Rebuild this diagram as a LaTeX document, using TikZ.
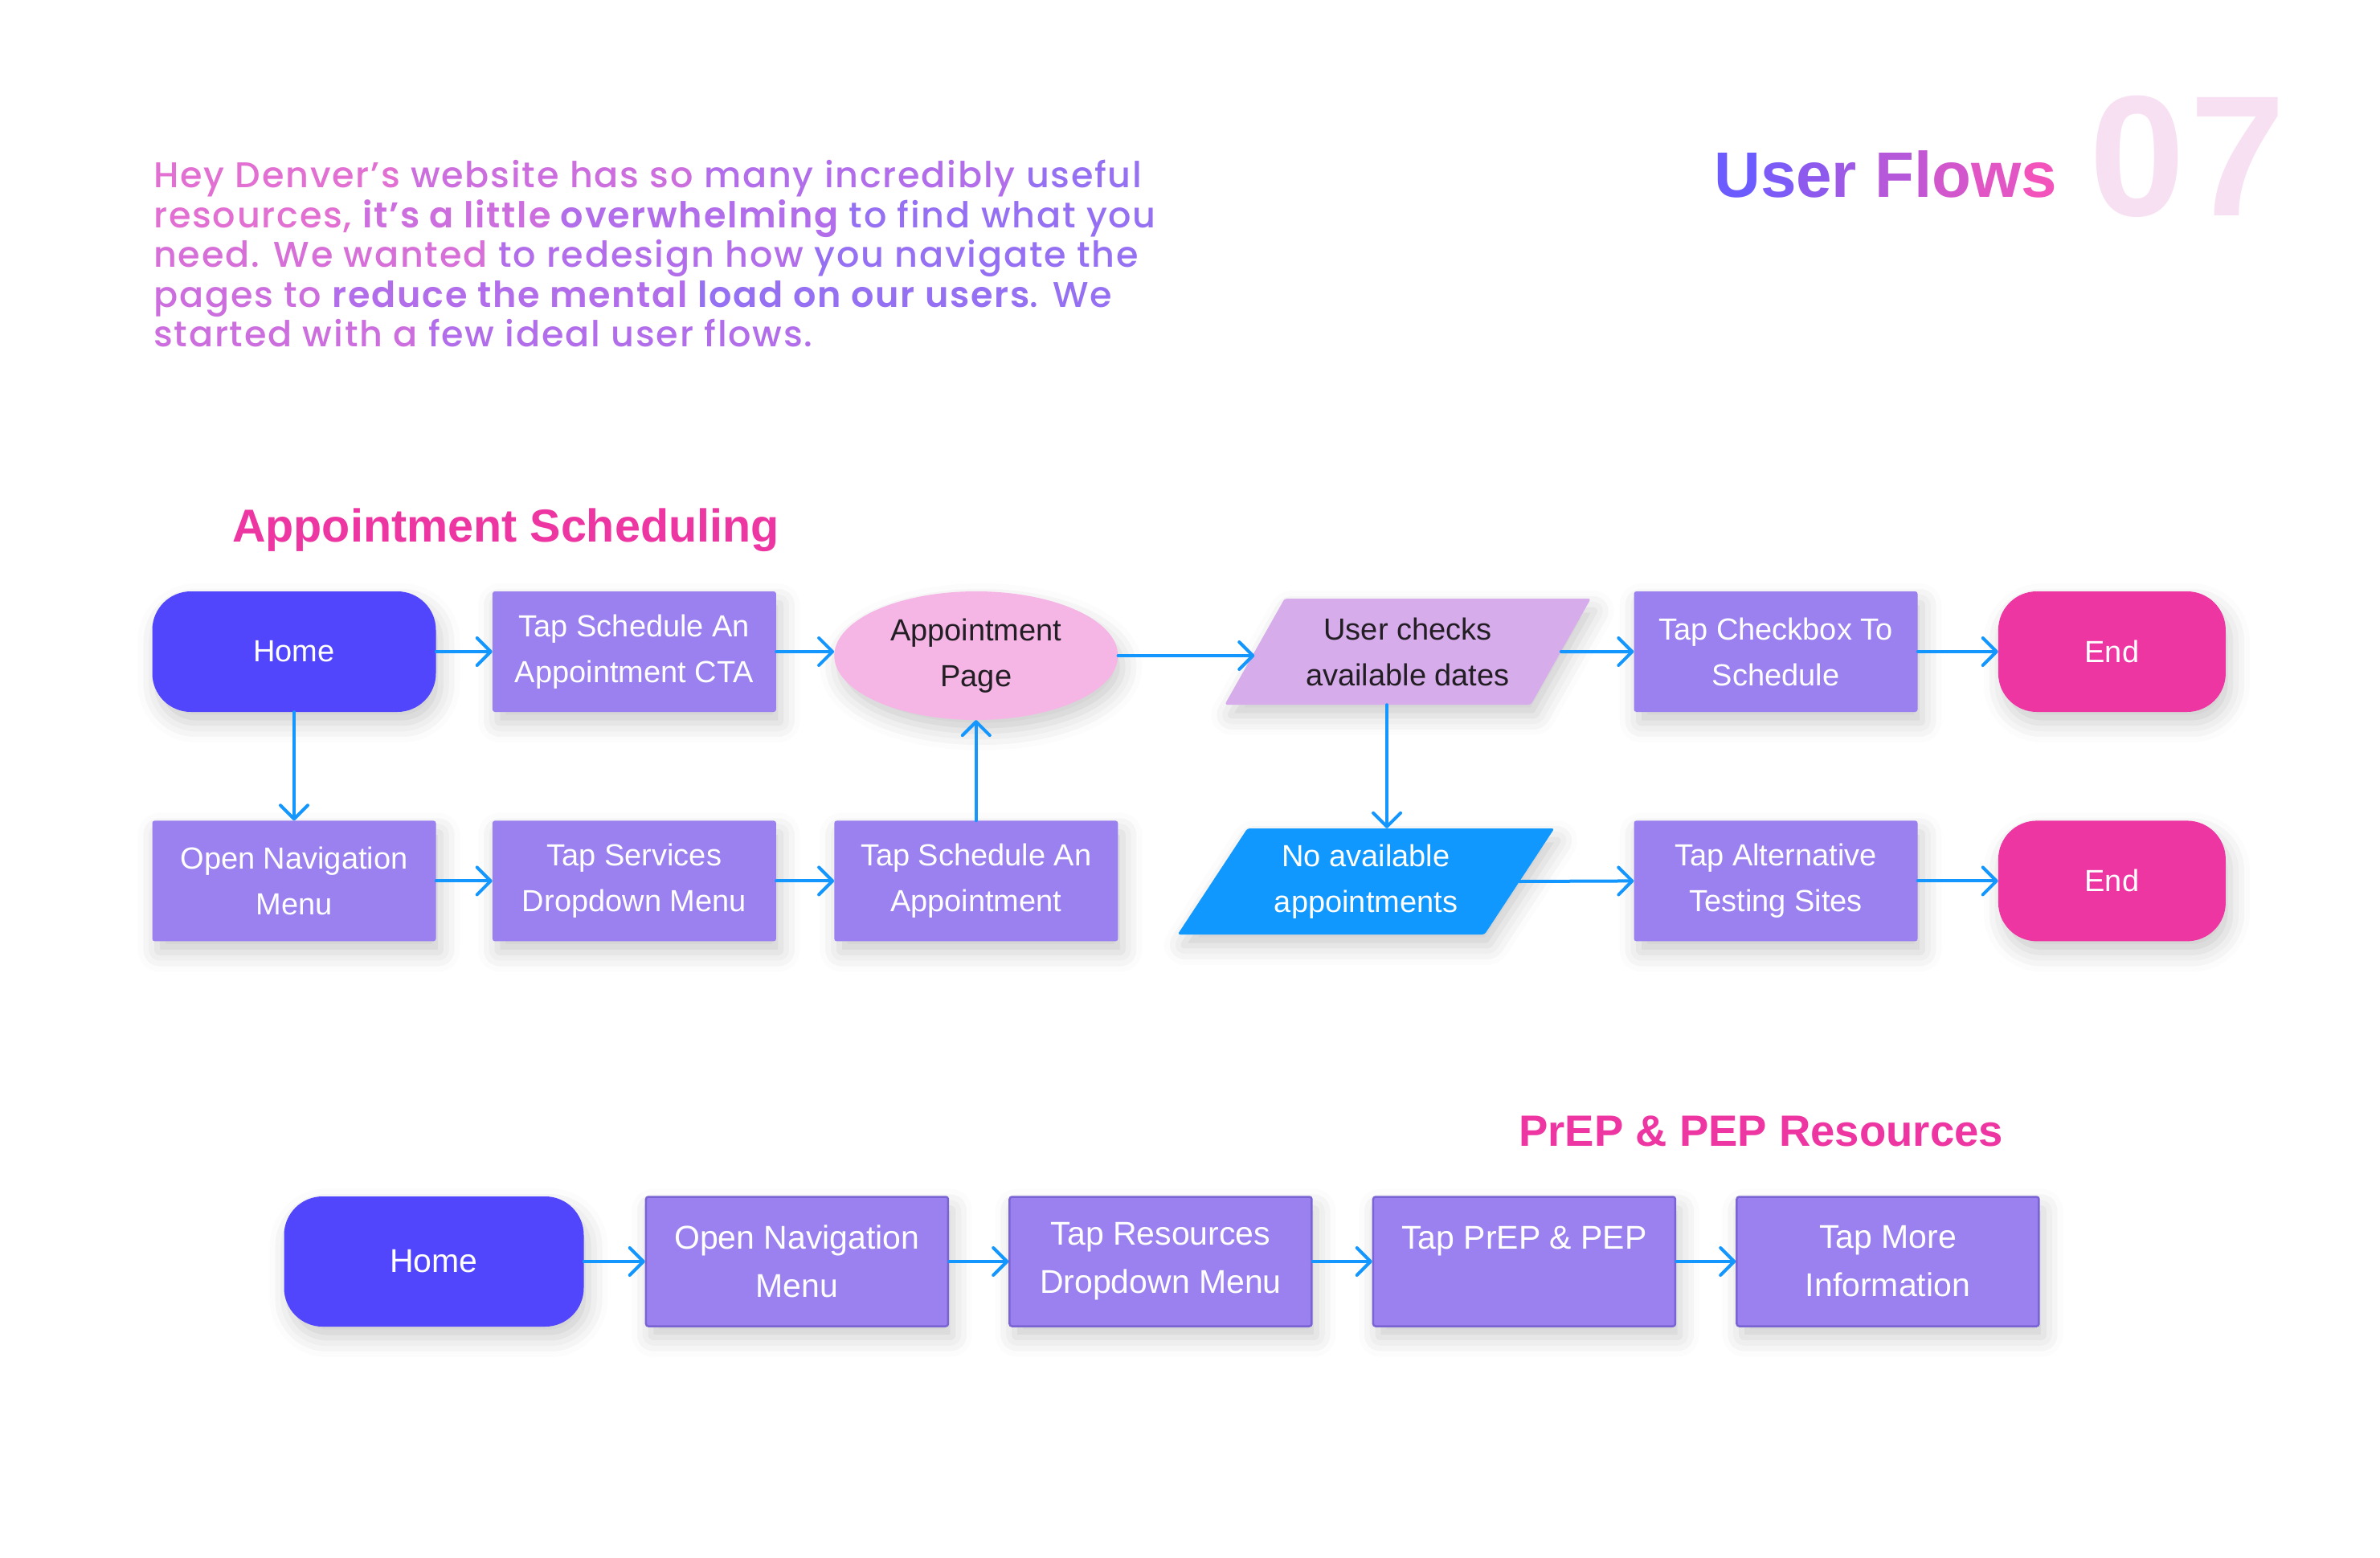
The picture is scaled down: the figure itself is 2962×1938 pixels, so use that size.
\documentclass[tikz,border=0pt]{standalone}
\usepackage{fontspec}
\setmainfont{Liberation Sans}
\newfontfamily\introfont{Poppins}[UprightFont={* Medium}, BoldFont={* SemiBold}, LetterSpace=4]
\usetikzlibrary{arrows.meta, calc, positioning, shapes.geometric, shadows.blur}

\definecolor{homeblue}{RGB}{81, 70, 251}
\definecolor{steppurple}{RGB}{155, 128, 240}
\definecolor{stepedge}{RGB}{122, 100, 212}
\definecolor{endpink}{RGB}{238, 54, 163}
\definecolor{pagepink}{RGB}{245, 182, 230}
\definecolor{checklilac}{RGB}{214, 172, 235}
\definecolor{noneblue}{RGB}{16, 152, 255}
\definecolor{flowblue}{RGB}{20, 150, 255}
\definecolor{numpink}{RGB}{248, 224, 243}
\definecolor{darktext}{RGB}{34, 30, 36}
\definecolor{introA}{RGB}{226, 112, 210}
\definecolor{introB}{RGB}{204, 110, 222}
\definecolor{introC}{RGB}{178, 110, 234}
\definecolor{introD}{RGB}{150, 112, 242}
\definecolor{titleA}{RGB}{108, 92, 255}
\definecolor{titleB}{RGB}{242, 84, 188}

\newcommand\stepfont{\fontsize{38}{57}\selectfont}
\newcommand\rowfont{\fontsize{41}{60}\selectfont}

\tikzset{
  softshadow/.style={blur shadow={shadow xshift=6pt, shadow yshift=-14pt, shadow blur radius=24pt, shadow opacity=20}},
  startend/.style={rounded corners=48, minimum width=353, minimum height=150, inner sep=0, text=white, font=\stepfont, softshadow},
  homebox/.style={startend, fill=homeblue},
  endbox/.style={startend, fill=endpink, minimum width=283},
  stepbox/.style={rounded corners=3, fill=steppurple, minimum width=353, minimum height=150, inner sep=0, text=white, align=center, font=\stepfont, softshadow},
  widebox/.style={minimum width=376, minimum height=161, draw=stepedge, line width=2.5, font=\rowfont},
  pagebox/.style={ellipse, fill=pagepink, minimum width=353, minimum height=160, inner sep=0, text=darktext, align=center, font=\stepfont, softshadow},
  datashape/.style={trapezium, trapezium left angle=54, trapezium right angle=126, trapezium stretches=true, rounded corners=3, minimum height=132, inner sep=0, align=center, font=\stepfont, softshadow},
  heading/.style={anchor=base west, inner sep=0, text=endpink},
  flow/.style={draw=flowblue, line width=4, line cap=round, -{Straight Barb[length=17, width=34, round]}},
}

\begin{document}
\begin{tikzpicture}[x=1pt, y=-1pt]
\useasboundingbox (0,0) rectangle (2962,1938);

% --- Intro ---
\node[anchor=north west, align=left, inner sep=0, font=\introfont\fontsize{44.5}{49.6}\selectfont] (intro) at (191,199) {%
\textcolor{introA}{Hey Denver’s} \textcolor{introB}{website has so} \textcolor{introC}{many incredibly} \textcolor{introD}{useful}\\
\textcolor{introA}{resources,} \textbf{\textcolor{introB}{it’s a little} \textcolor{introC}{overwhelming}} \textcolor{introD}{to find what you}\\
\textcolor{introA!50!introB}{need. We wanted} \textcolor{introC}{to redesign how} \textcolor{introD}{you navigate the}\\
\textcolor{introB}{pages to} \textbf{\textcolor{introC}{reduce the mental} \textcolor{introD}{load on our users}}\textcolor{introD}{. We}\\
\textcolor{introB}{started with a} \textcolor{introC}{few ideal user flows.}};

% --- Title ---
\node[anchor=base west, inner sep=0, font=\bfseries\fontsize{80}{80}\selectfont] (flows) at (2133,245) {\textcolor{titleA}{U}\textcolor{titleB!12!titleA}{s}\textcolor{titleB!25!titleA}{e}\textcolor{titleB!37!titleA}{r} \textcolor{titleB!55!titleA}{F}\textcolor{titleB!65!titleA}{l}\textcolor{titleB!76!titleA}{o}\textcolor{titleB!88!titleA}{w}\textcolor{titleB}{s}};
\node[anchor=base west, inner sep=0, text=numpink, font=\bfseries\fontsize{214}{214}\selectfont] (num) at (2600,268) {0\kern6pt 7};

% --- Appointment scheduling ---
\node[heading, font=\bfseries\fontsize{57.5}{58}\selectfont] (apptitle) at (289,674) {Appointment Scheduling};

\node[homebox] (home) at (366,811) {Home};
\node[stepbox, right=70pt of home] (cta) {Tap Schedule An\\Appointment CTA};
\node[pagebox, right=72pt of cta, yshift=-5pt] (page) {Appointment\\Page};
\node[datashape, fill=checklilac, text=darktext, minimum width=458] (check) at (1752,811) {User checks\\available dates};
\node[stepbox] (tick) at (2210,811) {Tap Checkbox To\\Schedule};
\node[endbox, right=100pt of tick] (endA) {End};

\node[stepbox, below=135pt of home] (nav) {Open Navigation\\Menu};
\node[stepbox, right=70pt of nav] (services) {Tap Services\\Dropdown Menu};
\node[stepbox, right=72pt of services] (sched) {Tap Schedule An\\Appointment};
\node[datashape, fill=noneblue, text=white, minimum width=471] (noapp) at (1700,1097) {No available\\appointments};
\node[stepbox, below=135pt of tick] (alt) {Tap Alternative\\Testing Sites};
\node[endbox, right=100pt of alt] (endB) {End};

\coordinate (drop) at ($(check.south)!0.5!(noapp.north)$);

\draw[flow] (home) -- (cta);
\draw[flow] (cta) -- (cta -| page.west);
\draw[flow] (page.east) -- (page.east -| check.west);
\draw[flow] (check.east) -- (tick.west);
\draw[flow] (tick) -- (endA);
\draw[flow] (home) -- (nav);
\draw[flow] (nav) -- (services);
\draw[flow] (services) -- (sched);
\draw[flow] (sched) -- (page);
\draw[flow] (check.south -| drop) -- (noapp.north -| drop);
\draw[flow] (noapp.east) -- (alt.west);
\draw[flow] (alt) -- (endB);

% --- PrEP & PEP ---
\node[heading, font=\bfseries\fontsize{54.5}{55}\selectfont] (preptitle) at (1890,1426) {PrEP \& PEP Resources};

\node[homebox, minimum width=373, minimum height=162, font=\rowfont] (homeB) at (540,1570) {Home};
\node[stepbox, widebox, right=76pt of homeB] (navB) {Open Navigation\\Menu};
\node[stepbox, widebox, right=74pt of navB] (res) {Tap Resources\\Dropdown Menu};
\node[stepbox, widebox, right=74pt of res] (prep) {Tap PrEP \& PEP\\\mbox{}};
\node[stepbox, widebox, right=74pt of prep] (more) {Tap More\\Information};

\draw[flow] (homeB) -- (navB);
\draw[flow] (navB) -- (res);
\draw[flow] (res) -- (prep);
\draw[flow] (prep) -- (more);
\end{tikzpicture}
\end{document}
